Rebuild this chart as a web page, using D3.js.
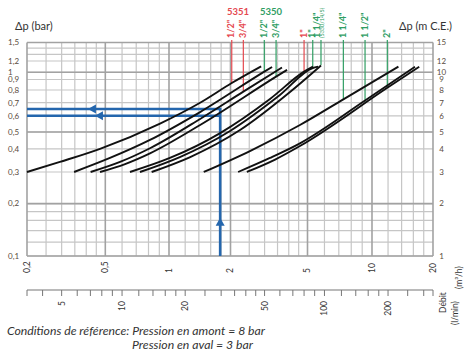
<!DOCTYPE html>
<html lang="fr">
<head>
  <meta charset="UTF-8">
  <title>Perte de charge</title>
  <script src="https://d3js.org/d3.v7.min.js"></script>
  <style>
    body { margin: 0; background: #fff; }
    text { font-family: Lato, "Noto Sans", sans-serif; }
  </style>
</head>
<body>
  <script>
    var svgWidth = 472;
    var svgHeight = 354;

    // debit (m3/h) axis
    var flowTicks = [0.2, 0.5, 1, 2, 5, 10, 20];
    var flowLabels = ["0,2", "0,5", "1", "2", "5", "10", "20"];
    var flowGrid = [0.25, 0.3, 0.35, 0.4, 0.45, 0.6, 0.7, 0.8, 0.9, 1.2, 1.4, 1.6, 1.8,
                    2.5, 3, 3.5, 4, 4.5, 6, 7, 8, 9, 12, 14, 16, 18];
    // debit (l/min) axis
    var lminTicks = [4, 5, 6, 7, 8, 9, 10, 12, 14, 16, 18, 20, 25, 30, 35, 40, 45, 50,
                     60, 70, 80, 90, 100, 120, 140, 160, 180, 200, 250, 300];
    var lminLabels = [5, 10, 20, 50, 100, 200];
    // pressure axis
    var barTicks = [0.1, 0.2, 0.3, 0.4, 0.5, 0.6, 0.7, 0.8, 0.9, 1, 1.2, 1.5];
    var barLabels = ["0,1", "0,2", "0,3", "0,4", "0,5", "0,6", "0,7", "0,8", "0,9", "1", "1,2", "1,5"];
    var mceLabels = ["1", "2", "3", "4", "5", "6", "7", "8", "9", "10", "12", "15"];
    var barGrid = [0.12, 0.14, 0.16, 0.18, 1.3, 1.4];
    var barMajor = [0.2, 0.5, 1];

    // loss curves [m3/h, bar]
    var curve5351_12 = [[0.2, 0.3], [0.294, 0.34], [0.47, 0.40], [0.907, 0.55], [1.42, 0.70], [2.03, 0.865], [2.88, 1.1]];
    var curve5350_12 = [[0.347, 0.3], [0.526, 0.357], [0.813, 0.45], [1.42, 0.627], [2.99, 1.01], [3.28, 1.09]];
    var curve5351_34 = [[0.421, 0.3], [0.587, 0.34], [0.813, 0.403], [1.42, 0.579], [2.33, 0.786], [3.69, 1.08]];
    var curve5350_34 = [[0.47, 0.3], [0.62, 0.331], [0.813, 0.378], [1.42, 0.541], [3.44, 0.938], [3.92, 1.04]];
    var curve5351_1 = [[0.654, 0.3], [1.01, 0.357], [1.78, 0.493], [3.2, 0.728], [4.8, 1.01], [5.3, 1.095]];
    var curve5350_1 = [[0.729, 0.3], [1.13, 0.361], [1.99, 0.506], [3.6, 0.759], [5.29, 1.072], [5.6, 1.095]];
    var curve5330_114 = [[0.828, 0.3], [1.27, 0.361], [2.24, 0.511], [4.06, 0.783], [5.78, 1.116]];
    var curve114 = [[1.48, 0.3], [2.52, 0.389], [4.57, 0.541], [7.35, 0.725], [13.5, 1.095]];
    var curve112 = [[2.19, 0.3], [3.2, 0.357], [4.57, 0.43], [9.28, 0.716], [16.3, 1.095]];
    var curve2 = [[2.43, 0.3], [3.4, 0.35], [4.57, 0.415], [11.9, 0.82], [17.1, 1.095]];
    var curves = [curve5351_12, curve5350_12, curve5351_34, curve5350_34, curve5351_1,
                  curve5350_1, curve5330_114, curve114, curve112, curve2];

    // size markers
    var sizeNames = ['1/2"', '3/4"', '1/2"', '3/4"', '1"', '1"', '1 1/4"', '1 1/4"', '1 1/2"', '2"'];
    var sizeNotes = ["", "", "", "", "", "", "(5330/14/5)", "", "", ""];
    var sizeSeries = ["5351", "5351", "5350", "5350", "5351", "5350", "5350", "5350", "5350", "5350"];
    var sizeFlows = [2.03, 2.33, 2.99, 3.44, 4.8, 5.29, 5.78, 7.35, 9.28, 11.9];
    var sizeDrops = [0.865, 0.786, 1.01, 0.938, 1.01, 1.072, 1.12, 0.725, 0.707, 0.82];

    // reading example
    var exampleFlow = 1.78;
    var exampleDrops = [0.65, 0.6];
    var exampleArrowFlows = [0.408, 0.443];
    var exampleArrowDrop = 0.166;

    var seriesColor = { "5351": "#e5484f", "5350": "#2f9e63" };
    var blue = "#2466ad";

    var svg = d3.select("body")
                .append("svg")
                .attr("width", svgWidth)
                .attr("height", svgHeight);

    var x = d3.scaleLog()
              .domain(flowTicks)
              .range([27, 105.3, 169, 230.5, 307.5, 372, 433]);

    var y = d3.scaleLog()
              .domain(barTicks)
              .range([256, 203.6, 172, 148.8, 132, 115.8, 102.7, 90, 79.5, 72.3, 61, 42.5]);

    var lmin = function(v) { return x(v * 60 / 1000); };

    // grid
    var grid = svg.append("g");
    grid.selectAll(".vminor")
        .data(flowGrid)
        .enter().append("line")
        .attr("x1", d => x(d)).attr("x2", d => x(d))
        .attr("y1", y(0.1)).attr("y2", y(1.5))
        .style("stroke", "#c6c6c6").style("stroke-width", 1.2);
    grid.selectAll(".hminor")
        .data(barTicks.concat(barGrid))
        .enter().append("line")
        .attr("x1", x(0.2)).attr("x2", x(20))
        .attr("y1", d => y(d)).attr("y2", d => y(d))
        .style("stroke", "#c6c6c6").style("stroke-width", 1.2);
    grid.selectAll(".vmajor")
        .data(flowTicks)
        .enter().append("line")
        .attr("x1", d => x(d)).attr("x2", d => x(d))
        .attr("y1", y(0.1)).attr("y2", y(1.5))
        .style("stroke", "#a2a2a2").style("stroke-width", 1.6);
    grid.selectAll(".hmajor")
        .data(barMajor.concat([0.1, 1.5]))
        .enter().append("line")
        .attr("x1", x(0.2)).attr("x2", x(20))
        .attr("y1", d => y(d)).attr("y2", d => y(d))
        .style("stroke", "#a2a2a2").style("stroke-width", 1.6);

    // size marker lines
    var marks = svg.append("g");
    marks.selectAll("line")
         .data(sizeFlows)
         .enter().append("line")
         .attr("x1", d => x(d)).attr("x2", d => x(d))
         .attr("y1", 40)
         .attr("y2", (d, i) => y(sizeDrops[i]))
         .style("stroke", (d, i) => seriesColor[sizeSeries[i]])
         .style("stroke-width", 1.2);

    // example reading
    var ex = svg.append("g");
    ex.selectAll(".hline")
      .data(exampleDrops)
      .enter().append("line")
      .attr("x1", x(0.2)).attr("x2", x(exampleFlow))
      .attr("y1", d => y(d)).attr("y2", d => y(d))
      .style("stroke", blue).style("stroke-width", 2.6);
    ex.append("line")
      .attr("x1", x(exampleFlow)).attr("x2", x(exampleFlow))
      .attr("y1", y(0.1)).attr("y2", y(exampleDrops[0]) - 1.3)
      .style("stroke", blue).style("stroke-width", 2.6);
    ex.selectAll(".harrow")
      .data(exampleArrowFlows)
      .enter().append("path")
      .attr("d", (d, i) => {
        var tx = x(d), ty = y(exampleDrops[i]);
        return "M" + tx + "," + ty + "L" + (tx + 8) + "," + (ty - 4.5) + "L" + (tx + 8) + "," + (ty + 4.5) + "Z";
      })
      .style("fill", blue);
    ex.append("path")
      .attr("d", function() {
        var tx = x(exampleFlow), ty = y(exampleArrowDrop);
        return "M" + tx + "," + ty + "L" + (tx - 4.5) + "," + (ty + 8) + "L" + (tx + 4.5) + "," + (ty + 8) + "Z";
      })
      .style("fill", blue);

    // curves
    var line = d3.line()
                 .x(d => x(d[0]))
                 .y(d => y(d[1]))
                 .curve(d3.curveMonotoneX);

    svg.selectAll(".curve")
       .data(curves)
       .enter().append("path")
       .attr("class", "curve")
       .attr("d", line)
       .style("fill", "none")
       .style("stroke", "#111")
       .style("stroke-width", 1.9);

    // pressure labels
    var labelColor = "#5a4b40";
    svg.selectAll(".barlab")
       .data(barTicks)
       .enter().append("text")
       .attr("x", 8)
       .attr("y", d => y(d))
       .attr("dy", "0.35em")
       .style("font-size", "8px")
       .style("fill", labelColor)
       .text((d, i) => barLabels[i]);
    svg.selectAll(".mcelab")
       .data(barTicks)
       .enter().append("text")
       .attr("x", 441.5)
       .attr("y", d => y(d))
       .attr("dy", "0.35em")
       .attr("text-anchor", "middle")
       .style("font-size", "8px")
       .style("fill", labelColor)
       .text((d, i) => mceLabels[i]);

    svg.append("text")
       .attr("x", 15).attr("y", 30)
       .style("font-size", "11px").style("fill", "#333")
       .text("Δp (bar)");
    svg.append("text")
       .attr("x", 452).attr("y", 30)
       .attr("text-anchor", "end")
       .style("font-size", "11px").style("fill", "#333")
       .text("Δp (m C.E.)");

    // flow labels
    svg.selectAll(".flowlab")
       .data(flowTicks)
       .enter().append("text")
       .attr("transform", d => "translate(" + x(d) + ",273) rotate(-90)")
       .attr("dy", "0.35em")
       .style("font-size", "8.5px")
       .style("fill", "#333")
       .text((d, i) => flowLabels[i]);

    // l/min axis
    var lax = svg.append("g");
    lax.append("line")
       .attr("x1", x(0.2)).attr("x2", x(20))
       .attr("y1", 290).attr("y2", 290)
       .style("stroke", "#777").style("stroke-width", 1.2);
    lax.selectAll(".tick")
       .data(lminTicks.concat([0.2 * 1000 / 60, 20 * 1000 / 60]))
       .enter().append("line")
       .attr("x1", d => lmin(d)).attr("x2", d => lmin(d))
       .attr("y1", 290).attr("y2", 296)
       .style("stroke", "#777").style("stroke-width", 1);
    lax.selectAll("text")
       .data(lminLabels)
       .enter().append("text")
       .attr("transform", d => "translate(" + lmin(d) + ",301) rotate(-90)")
       .attr("dy", "0.35em")
       .attr("text-anchor", "end")
       .style("font-size", "8.5px")
       .style("fill", "#333")
       .text(d => d);

    svg.append("text")
       .attr("transform", "translate(443,313) rotate(-90)")
       .attr("dy", "0.35em")
       .style("font-size", "8.5px").style("fill", "#333")
       .text("Débit");
    svg.append("text")
       .attr("transform", "translate(455,325) rotate(-90)")
       .attr("dy", "0.35em")
       .style("font-size", "8.5px").style("fill", "#333")
       .text("(l/min)");
    svg.append("text")
       .attr("transform", "translate(459,289) rotate(-90)")
       .attr("dy", "0.35em")
       .style("font-size", "8.5px").style("fill", "#333")
       .text("(m³/h)");

    // size labels
    svg.append("text")
       .attr("x", 238).attr("y", 15)
       .attr("text-anchor", "middle")
       .style("font-size", "9.5px").style("font-weight", "bold")
       .style("fill", seriesColor["5351"])
       .text("5351");
    svg.append("text")
       .attr("x", 271).attr("y", 15)
       .attr("text-anchor", "middle")
       .style("font-size", "9.5px").style("font-weight", "bold")
       .style("fill", seriesColor["5350"])
       .text("5350");

    svg.selectAll(".sizelab")
       .data(sizeFlows)
       .enter().append("text")
       .attr("transform", (d, i) => "translate(" + (x(d) - (sizeNotes[i] ? 4 : 0)) + ",38) rotate(-90)")
       .attr("dy", "0.3em")
       .style("font-size", "9px").style("font-weight", "bold")
       .style("fill", (d, i) => seriesColor[sizeSeries[i]])
       .text((d, i) => sizeNames[i]);
    svg.selectAll(".sizenote")
       .data(sizeFlows.filter((d, i) => sizeNotes[i]))
       .enter().append("text")
       .attr("transform", d => "translate(" + (x(d) + 1) + ",38) rotate(-90)")
       .attr("dy", "0.3em")
       .style("font-size", "5.5px")
       .style("fill", seriesColor["5350"])
       .text((d, i) => sizeNotes.filter(s => s)[i]);

    // caption
    svg.append("text")
       .attr("x", 7).attr("y", 335)
       .attr("textLength", 258).attr("lengthAdjust", "spacingAndGlyphs")
       .style("font-size", "11px").style("font-style", "italic").style("fill", "#333")
       .text("Conditions de référence: Pression en amont = 8 bar");
    svg.append("text")
       .attr("x", 132).attr("y", 349)
       .attr("textLength", 121).attr("lengthAdjust", "spacingAndGlyphs")
       .style("font-size", "11px").style("font-style", "italic").style("fill", "#333")
       .text("Pression en aval = 3 bar");
  </script>
</body>
</html>
